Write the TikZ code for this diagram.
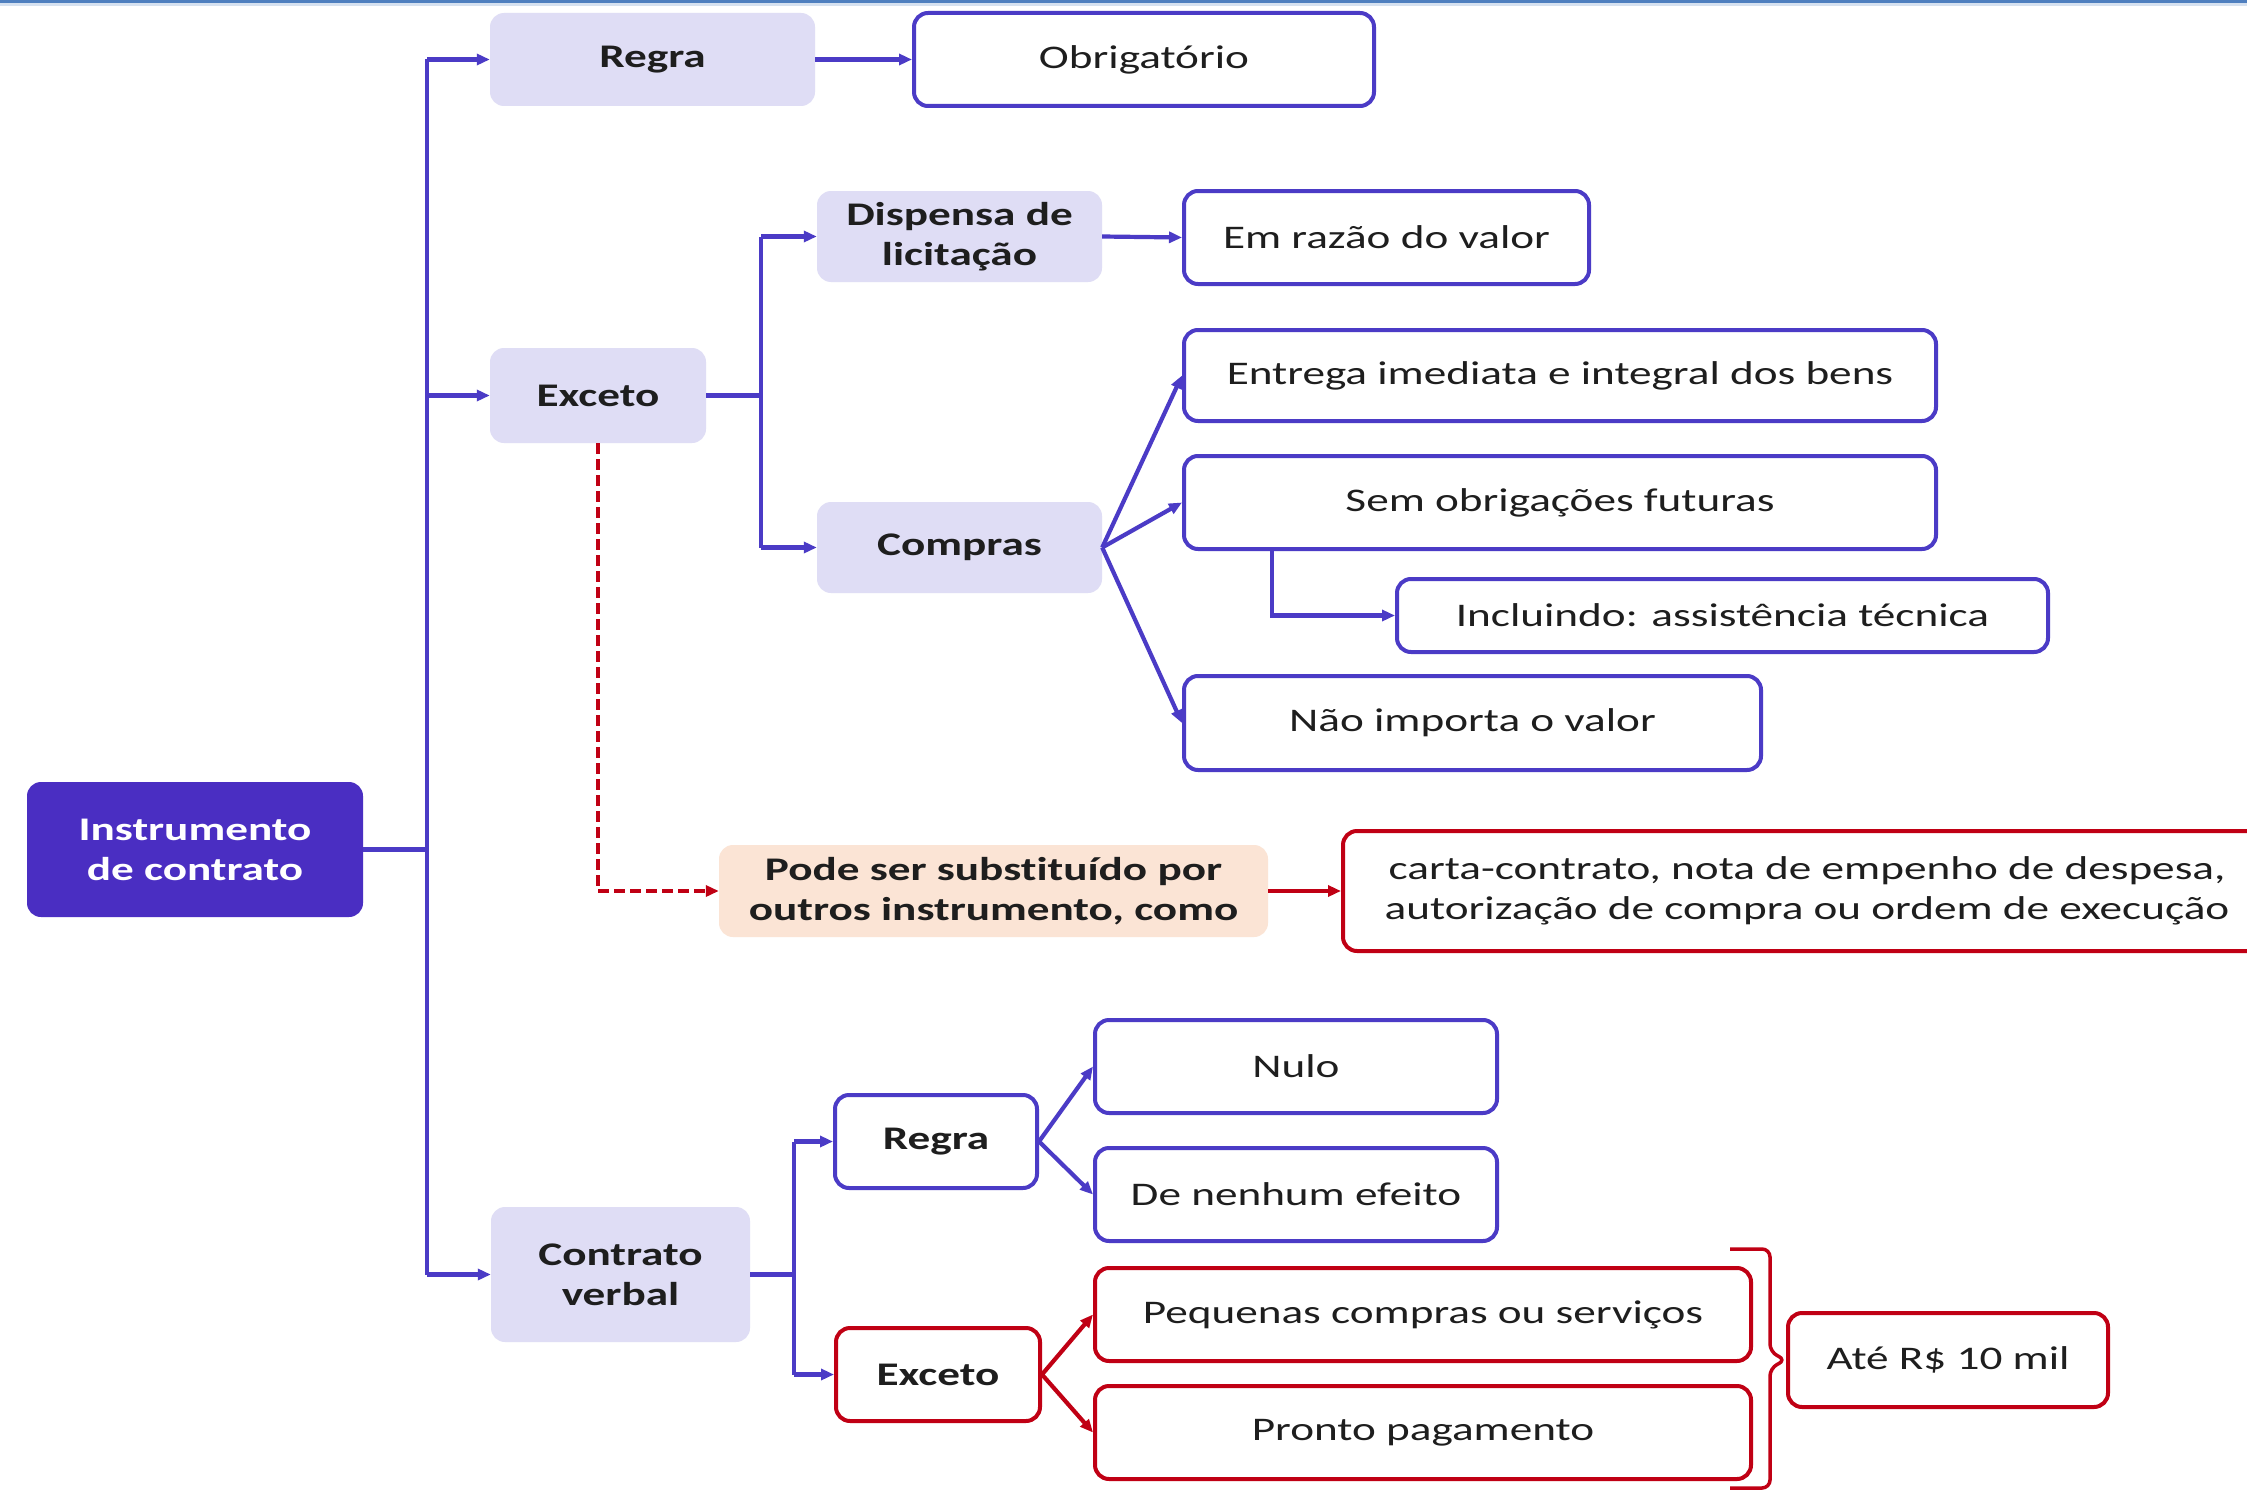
\documentclass[tikz,border=0pt]{standalone}
\usepackage{fontspec}
\setmainfont{Carlito}[FakeStretch=1.37,RawFeature={-liga;-calt;-clig}]
\usetikzlibrary{arrows.meta}
\definecolor{linep}{HTML}{4B3BC6}
\definecolor{rootf}{HTML}{4A2EC2}
\definecolor{lav}{HTML}{DFDDF5}
\definecolor{redb}{HTML}{C00014}
\definecolor{peach}{HTML}{FBE4D5}
\definecolor{txt}{HTML}{1E1E1E}
\definecolor{topblue}{HTML}{4F7FBF}
\definecolor{toplight}{HTML}{D6E1F0}
\tikzset{
  base/.style={rectangle, rounded corners=14pt, inner sep=0pt, align=center, text=txt,
    font=\fontsize{33}{40}\selectfont},
  lavbox/.style={base, fill=lav, font=\fontsize{33}{40}\selectfont\bfseries},
  wbox/.style={base, draw=linep, line width=4pt, fill=white},
  rbox/.style={base, draw=redb, line width=4pt, fill=white},
  rootbox/.style={base, fill=rootf, text=white, font=\fontsize{33}{40}\selectfont\bfseries},
  peachbox/.style={base, fill=peach, font=\fontsize{33}{40}\selectfont\bfseries},
  ln/.style={draw=linep, line width=4.2pt},
  arr/.style={ln, -{Triangle[length=13pt,width=11pt]}},
  rln/.style={draw=redb, line width=4.2pt},
  rarr/.style={rln, -{Triangle[length=13pt,width=11pt]}},
  dasharr/.style={rarr, dash pattern=on 11pt off 5pt},
}
\begin{document}
\begin{tikzpicture}[x=1pt,y=-1pt]
\useasboundingbox (0,0) rectangle (2247,1493);
\clip (0,0) rectangle (2247,1493);
\fill[white] (0,0) rectangle (2247,1493);
\fill[topblue] (0,0) rectangle (2247,3);
\fill[toplight] (0,3) rectangle (2247,6);

% nodes
\node[rootbox, minimum width=336pt, minimum height=135pt] (root) at (195,849.5) {Instrumento\\de contrato};
\node[lavbox, minimum width=325pt, minimum height=93pt] (regra1) at (652.5,59.5) {Regra};
\node[wbox, minimum width=460pt, minimum height=93pt] (obr) at (1144,59.5) {Obrigatório};
\node[lavbox, minimum width=216pt, minimum height=95pt] (exc1) at (598,395.5) {Exceto};
\node[lavbox, minimum width=285pt, minimum height=91pt] (disp) at (959.5,236.5) {Dispensa de\\licitação};
\node[wbox, minimum width=405pt, minimum height=93pt] (emr) at (1386.5,237.5) {Em razão do valor};
\node[lavbox, minimum width=285pt, minimum height=91pt] (comp) at (959.5,547.5) {Compras};
\node[wbox, minimum width=752pt, minimum height=91pt] (ent) at (1560,375.5) {Entrega imediata e integral dos bens};
\node[wbox, minimum width=752pt, minimum height=93pt] (sem) at (1560,502.5) {Sem obrigações futuras};
\node[wbox, minimum width=651pt, minimum height=73pt] (incl) at (1722.5,615.5) {Incluindo: assistência técnica};
\node[wbox, minimum width=577pt, minimum height=94pt] (nao) at (1472.5,723) {Não importa o valor};
\node[peachbox, minimum width=549pt, minimum height=92pt] (pode) at (993.5,891) {Pode ser substituído por\\outros instrumento, como};
\node[rbox, minimum width=928pt, minimum height=120pt] (carta) at (1807,891) {carta-contrato, nota de empenho de despesa,\\autorização de compra ou ordem de execução};
\node[lavbox, minimum width=259pt, minimum height=135pt] (cv) at (620.5,1274.5) {Contrato\\verbal};
\node[wbox, minimum width=202pt, minimum height=93pt, font=\fontsize{33}{40}\selectfont\bfseries] (regra2) at (936,1141.5) {Regra};
\node[rbox, minimum width=204pt, minimum height=93pt, font=\fontsize{33}{40}\selectfont\bfseries] (exc2) at (938,1374.5) {Exceto};
\node[wbox, minimum width=402pt, minimum height=93pt] (nulo) at (1296,1066.5) {Nulo};
\node[wbox, minimum width=402pt, minimum height=93pt] (dne) at (1296,1194.5) {De nenhum efeito};
\node[rbox, minimum width=656pt, minimum height=93pt] (peq) at (1423,1314.5) {Pequenas compras ou serviços};
\node[rbox, minimum width=656pt, minimum height=93pt] (pronto) at (1423,1432.5) {Pronto pagamento};
\node[rbox, minimum width=320pt, minimum height=94pt] (ate) at (1948,1360) {Até R\$ 10 mil};

% main trunk
\draw[ln] (root.east) -- (427,849.5) coordinate (trunk);
\draw[ln] (trunk |- regra1.west) -- (trunk |- cv.west);
\draw[arr] (trunk |- regra1.west) -- (regra1.west);
\draw[arr] (trunk |- exc1.west) -- (exc1.west);
\draw[arr] (trunk |- cv.west) -- (cv.west);
\draw[arr] (regra1.east) -- (obr.west);

% Exceto branch
\draw[ln] (exc1.east) -- (761,395.5) coordinate (b1);
\draw[ln] (b1 |- disp.west) -- (b1 |- comp.west);
\draw[arr] (b1 |- disp.west) -- (disp.west);
\draw[arr] (b1 |- comp.west) -- (comp.west);
\draw[arr] (disp.east) -- (emr.west);
\draw[arr] (comp.east) -- (ent.west);
\draw[arr] (comp.east) -- (sem.west);
\draw[arr] (comp.east) -- (nao.west);
\draw[arr] ([xshift=-288pt]sem.south) |- (incl.west);

% dashed red
\draw[dasharr] (exc1.south) |- (pode.west);
\draw[rarr] (pode.east) -- (carta.west);

% contrato verbal branch
\draw[ln] (cv.east) -- (794,1274.5) coordinate (b2);
\draw[ln] (b2 |- regra2.west) -- (b2 |- exc2.west);
\draw[arr] (b2 |- regra2.west) -- (regra2.west);
\draw[arr] (b2 |- exc2.west) -- (exc2.west);
\draw[arr] (regra2.east) -- (nulo.west);
\draw[arr] (regra2.east) -- (dne.west);
\draw[rarr] (exc2.east) -- (peq.west);
\draw[rarr] (exc2.east) -- (pronto.west);

% bracket
\draw[rln, line width=3.5pt, rounded corners=8pt] (1730,1249) -| (1770,1352) -- (ate.west) -- (1770,1368) |- (1730,1488);
\end{tikzpicture}
\end{document}
